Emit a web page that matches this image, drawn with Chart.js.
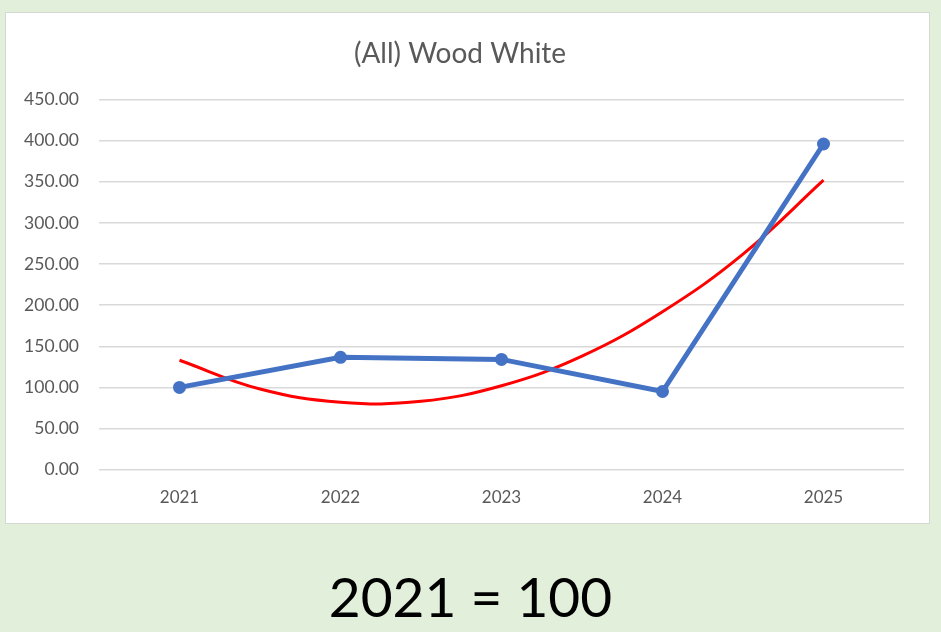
<!DOCTYPE html>
<html>
<head>
<meta charset="utf-8">
<script src="https://cdn.jsdelivr.net/npm/chart.js@4"></script>
<style>
  body { margin: 0; background: #e2efda; width: 941px; height: 632px; overflow: hidden; font-family: Lato, sans-serif; }
  #box { position: absolute; left: 5px; top: 12px; width: 923px; height: 510px; background: #fff; border: 1px solid #d4d9d0; }
  #note { position: absolute; left: 0; width: 941px; top: 561px; text-align: center; font-size: 55px; color: #000; line-height: 70px; }
</style>
</head>
<body>
<div id="box"><canvas id="chart" width="923" height="510"></canvas></div>
<div id="note">2021 = 100</div>
<script>
// Index values (2021 = 100)
const years = [2021, 2022, 2023, 2024, 2025];
const indexValues = [100, 136.5, 134, 95, 396];

// Red trend curve at half-year steps
const trendYears = [2021, 2021.5, 2022, 2022.5, 2023, 2023.5, 2024, 2024.5, 2025];
const trendValues = [133, 98, 82, 83, 102, 138, 192, 262, 352];

const yTicks = [0, 50, 100, 150, 200, 250, 300, 350, 400, 450];

const ctx = document.getElementById('chart').getContext('2d');
new Chart(ctx, {
    type: 'line',
    data: {
        datasets: [{
            label: 'Index',
            data: years.map((y, i) => ({ x: y, y: indexValues[i] })),
            borderColor: '#4472c4',
            backgroundColor: '#4472c4',
            borderWidth: 5,
            pointRadius: 6.5,
            pointBorderWidth: 0,
            tension: 0
        }, {
            label: 'Trend',
            data: trendYears.map((y, i) => ({ x: y, y: trendValues[i] })),
            borderColor: '#ff0000',
            borderWidth: 3,
            pointRadius: 0,
            tension: 0.4
        }]
    },
    options: {
        responsive: false,
        animation: false,
        layout: { padding: { left: 10, right: 25, top: 0, bottom: 5 } },
        plugins: {
            legend: { display: false },
            tooltip: { enabled: false },
            title: {
                display: true,
                text: '(All) Wood White',
                color: '#595959',
                font: { family: 'Lato', size: 28, weight: 'normal' },
                padding: { top: 24, bottom: 29 }
            }
        },
        scales: {
            x: {
                type: 'linear',
                min: 2020.5,
                max: 2025.5,
                grid: { display: false },
                border: { display: false },
                afterBuildTicks: s => { s.ticks = years.map(v => ({ value: v })); },
                ticks: {
                    color: '#595959',
                    font: { family: 'Lato', size: 17 },
                    padding: 10,
                    callback: v => String(v)
                }
            },
            y: {
                min: 0,
                max: 450,
                afterBuildTicks: s => { s.ticks = yTicks.map(v => ({ value: v })); },
                afterFit: s => { s.width = 83; },
                grid: { color: '#d9d9d9', lineWidth: 1.5, drawTicks: false },
                border: { display: false },
                ticks: {
                    color: '#595959',
                    font: { family: 'Lato', size: 17.5 },
                    padding: 20,
                    callback: v => v.toFixed(2)
                }
            }
        }
    }
});
</script>
</body>
</html>
